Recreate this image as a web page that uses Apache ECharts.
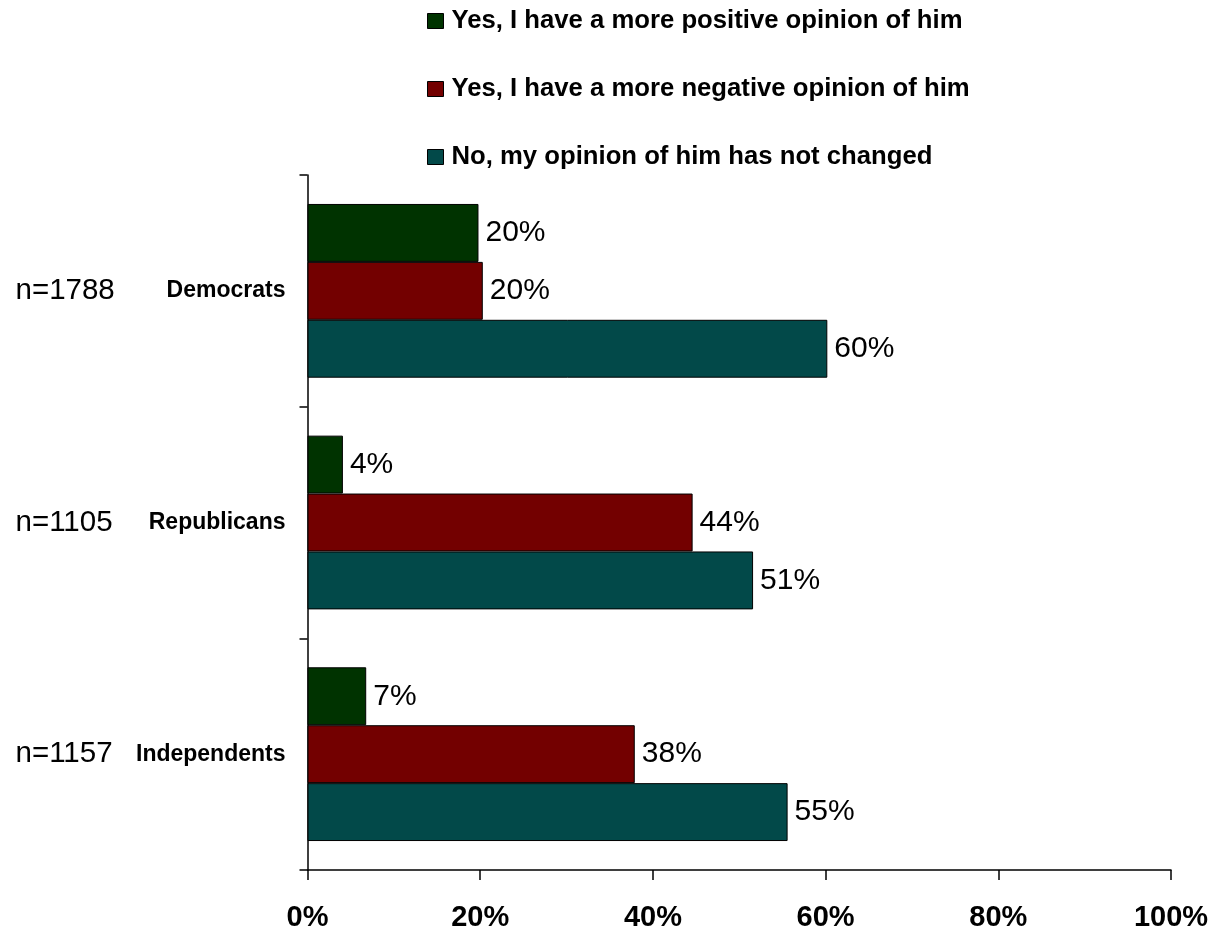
<!DOCTYPE html>
<html>
<head>
<meta charset="utf-8">
<script src="https://cdn.jsdelivr.net/npm/echarts@6/dist/echarts.min.js"></script>
<style>
html,body{margin:0;padding:0;background:#fff;}
#chart{width:1215px;height:933px;}
</style>
</head>
<body>
<div id="chart"></div>
<script>
// ---- data ----
const categories = ['Democrats', 'Republicans', 'Independents'];
const sampleSizes = ['n=1788', 'n=1105', 'n=1157'];
const seriesNames = [
  'Yes, I have a more positive opinion of him',
  'Yes, I have a more negative opinion of him',
  'No, my opinion of him has not changed'
];
const positiveValues = [19.8, 4.1, 6.8];
const negativeValues = [20.3, 44.6, 37.9];
const unchangedValues = [60.2, 51.6, 55.6];
const positiveLabels = ['20%', '4%', '7%'];
const negativeLabels = ['20%', '44%', '38%'];
const unchangedLabels = ['60%', '51%', '55%'];
const xTicks = [0, 20, 40, 60, 80, 100];

const colors = ['#003300', '#730000', '#024949'];
const valueSets = [positiveValues, negativeValues, unchangedValues];
const labelSets = [positiveLabels, negativeLabels, unchangedLabels];

const chart = echarts.init(document.getElementById('chart'));
const option = {
  animation: false,
  backgroundColor: '#ffffff',
  textStyle: { fontFamily: 'Liberation Sans, Arial, sans-serif' },
  legend: {
    orient: 'vertical',
    left: 422,
    top: 3,
    itemWidth: 16,
    itemHeight: 15,
    itemGap: 42,
    icon: 'rect',
    selectedMode: false,
    itemStyle: { borderColor: '#000', borderWidth: 1 },
    textStyle: {
      fontFamily: 'Liberation Sans, Arial, sans-serif',
      fontWeight: 'bold',
      fontSize: 25.7,
      lineHeight: 25,
      color: '#000',
      padding: [0, 0, 0, 3]
    },
    data: seriesNames
  },
  grid: { left: 307.5, right: 44, top: 175, bottom: 63, containLabel: false },
  xAxis: {
    type: 'value',
    min: xTicks[0],
    max: xTicks[xTicks.length - 1],
    interval: xTicks[1] - xTicks[0],
    splitLine: { show: false },
    axisLine: { show: true, lineStyle: { color: '#000', width: 1.5 } },
    axisTick: { show: true, length: 10, lineStyle: { color: '#000', width: 1.5 } },
    axisLabel: {
      formatter: '{value}%',
      fontFamily: 'Liberation Sans, Arial, sans-serif',
      fontWeight: 'bold',
      fontSize: 29,
      color: '#000',
      margin: 33
    }
  },
  yAxis: [
    {
      type: 'category',
      inverse: true,
      data: categories,
      axisLine: { show: true, lineStyle: { color: '#000', width: 1.5 } },
      axisTick: { show: true, length: 8, lineStyle: { color: '#000', width: 1.5 } },
      axisLabel: {
        fontFamily: 'Liberation Sans, Arial, sans-serif',
        fontWeight: 'bold',
        fontSize: 23,
        color: '#000',
        margin: 22
      }
    },
    {
      type: 'category',
      inverse: true,
      position: 'left',
      data: sampleSizes,
      axisLine: { show: false },
      axisTick: { show: false },
      axisLabel: {
        fontFamily: 'Liberation Sans, Arial, sans-serif',
        fontSize: 29.5,
        color: '#000',
        align: 'left',
        margin: 292
      }
    }
  ],
  series: seriesNames.map((name, si) => ({
    name: name,
    type: 'bar',
    yAxisIndex: 0,
    data: valueSets[si],
    barGap: '0%',
    barCategoryGap: '25%',
    itemStyle: { color: colors[si], borderColor: '#000', borderWidth: 1 },
    label: {
      show: true,
      position: 'right',
      distance: 7,
      fontFamily: 'Liberation Sans, Arial, sans-serif',
      fontSize: 30,
      color: '#000',
      formatter: p => labelSets[si][p.dataIndex]
    }
  }))
};
chart.setOption(option);
</script>
</body>
</html>
